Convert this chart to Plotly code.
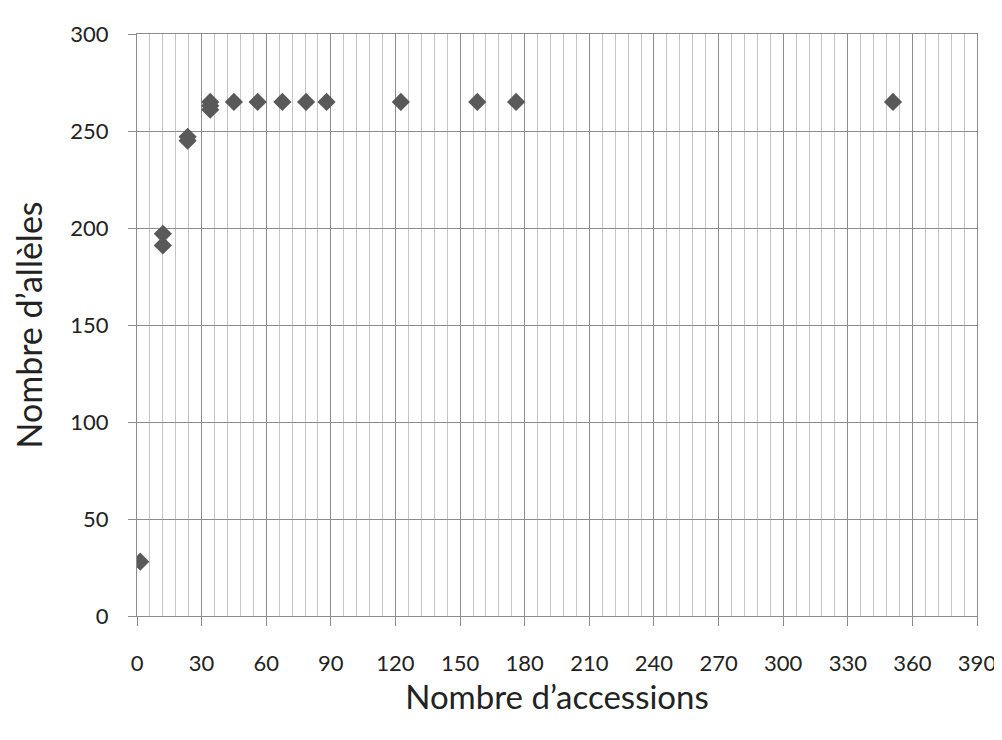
import plotly.graph_objects as go

# Nombre d'accessions vs nombre d'allèles
accessions = [1.5, 12, 12, 23.5, 23.5, 34, 34, 34, 45, 56, 67.5, 78.5, 88, 122.5, 158, 176, 351]
alleles = [28, 197, 191, 247, 245, 265, 263, 261, 265, 265, 265, 265, 265, 265, 265, 265, 265]

x_ticks = list(range(0, 391, 30))
y_ticks = list(range(0, 301, 50))

font_family = "Lato, 'Open Sans', sans-serif"

fig = go.Figure()

fig.add_trace(go.Scatter(
    x=accessions, y=alleles,
    mode='markers',
    marker=dict(symbol='diamond', size=14, color='#595959'),
    showlegend=False,
))

fig.update_xaxes(
    range=[0, 390],
    tickvals=x_ticks,
    ticks='outside', ticklen=9, tickcolor='#8c8c8c',
    ticklabelstandoff=19,
    showgrid=True, gridcolor='#8c8c8c', gridwidth=1,
    minor=dict(dtick=6, tick0=0, showgrid=True, gridcolor='#c4c4c4', gridwidth=1),
    showline=True, linecolor='#8c8c8c', mirror=True,
    zeroline=False,
    tickfont=dict(size=22, color='#222222', family=font_family),
    title=dict(text='Nombre d’accessions', font=dict(size=33, color='#222222', family=font_family), standoff=8),
)

fig.update_yaxes(
    range=[0, 300],
    tickvals=y_ticks,
    ticks='outside', ticklen=8, tickcolor='#8c8c8c',
    ticklabelstandoff=15,
    showgrid=True, gridcolor='#8c8c8c', gridwidth=1,
    showline=True, linecolor='#8c8c8c', mirror=True,
    zeroline=False,
    tickfont=dict(size=22, color='#222222', family=font_family),
    title=dict(text='Nombre d’allèles', font=dict(size=34, color='#222222', family=font_family), standoff=18),
)

fig.update_layout(
    width=1002, height=740,
    autosize=False,
    paper_bgcolor='white', plot_bgcolor='white',
    margin=dict(l=129, r=33, t=21, b=132),
)

fig.write_html("out.html")
